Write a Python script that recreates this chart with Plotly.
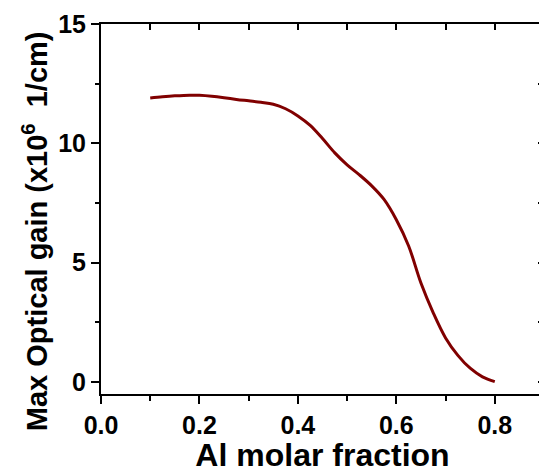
import plotly.graph_objects as go

al_fraction = [0.10, 0.125, 0.15, 0.18, 0.20, 0.225, 0.25, 0.275, 0.30, 0.325, 0.35, 0.375,
               0.40, 0.425, 0.45, 0.475, 0.50, 0.525, 0.55, 0.575, 0.60, 0.625, 0.65,
               0.675, 0.70, 0.725, 0.75, 0.775, 0.80]
max_gain = [11.90, 11.95, 11.99, 12.02, 12.01, 11.97, 11.91, 11.84, 11.78, 11.72, 11.64, 11.45,
            11.15, 10.75, 10.20, 9.60, 9.10, 8.68, 8.22, 7.65, 6.80, 5.70, 4.15,
            2.90, 1.85, 1.12, 0.58, 0.22, 0.02]

x_range = [0, 0.9]
y_range = [-0.5, 15]
x_ticks = [0.0, 0.2, 0.4, 0.6, 0.8]
x_ticklabels = ["0.0", "0.2", "0.4", "0.6", "0.8"]
y_ticks = [0, 5, 10, 15]
y_ticklabels = ["0", "5", "10", "15"]
x_title = "Al molar fraction"
y_title = "Max Optical gain (x10<sup>6</sup>  1/cm)"

FONT = "Liberation Sans, Arial, sans-serif"

fig = go.Figure()
fig.add_trace(go.Scatter(x=al_fraction, y=max_gain, mode="lines",
                         line=dict(color="#800000", width=3, shape="spline", smoothing=1.0),
                         showlegend=False, hoverinfo="skip"))
# invisible trace to activate the mirrored (inside-tick) top/right axes
fig.add_trace(go.Scatter(x=al_fraction, y=max_gain, mode="lines", xaxis="x2", yaxis="y2",
                         line=dict(color="rgba(0,0,0,0)", width=0),
                         showlegend=False, hoverinfo="skip"))

# the page body has an 8px margin, so the figure is shrunk/offset accordingly
fig.update_layout(
    width=539, height=465,
    margin=dict(l=93, r=3, t=16, b=79),
    paper_bgcolor="white", plot_bgcolor="white",
    font=dict(family=FONT, color="black"),
    xaxis=dict(range=x_range, tickvals=x_ticks, ticktext=x_ticklabels,
               ticks="outside", ticklen=8, tickwidth=2, tickcolor="black",
               minor=dict(dtick=0.1, tick0=0, ticks="outside", ticklen=5, tickwidth=2, tickcolor="black"),
               showline=True, linewidth=2, linecolor="black", showgrid=False, zeroline=False,
               tickfont=dict(size=25, family=FONT, weight="bold"),
               title=dict(text=x_title, font=dict(size=32, family=FONT, weight="bold"), standoff=9)),
    yaxis=dict(range=y_range, tickvals=y_ticks, ticktext=y_ticklabels,
               ticks="outside", ticklen=8, tickwidth=2, tickcolor="black",
               minor=dict(dtick=2.5, tick0=0, ticks="outside", ticklen=4, tickwidth=2, tickcolor="black"),
               showline=True, linewidth=2, linecolor="black", showgrid=False, zeroline=False,
               tickfont=dict(size=25, family=FONT, weight="bold")),
    xaxis2=dict(range=x_range, overlaying="x", side="top", anchor="y2", dtick=0.1, tick0=0,
                ticks="inside", ticklen=6, tickwidth=2, tickcolor="black",
                showticklabels=False, showline=True, linewidth=2, linecolor="black",
                showgrid=False, zeroline=False),
    yaxis2=dict(range=y_range, overlaying="y", side="right", anchor="x2", dtick=2.5, tick0=0,
                ticks="inside", ticklen=6, tickwidth=2, tickcolor="black",
                showticklabels=False, showline=True, linewidth=2, linecolor="black",
                showgrid=False, zeroline=False),
    annotations=[dict(text=y_title, textangle=-90, showarrow=False,
                      xref="paper", yref="paper", x=(27 - 93) / 443, y=0.44,
                      xanchor="center", yanchor="middle",
                      font=dict(size=29, family=FONT, weight="bold", color="black"))],
)

fig.write_html("out.html")
